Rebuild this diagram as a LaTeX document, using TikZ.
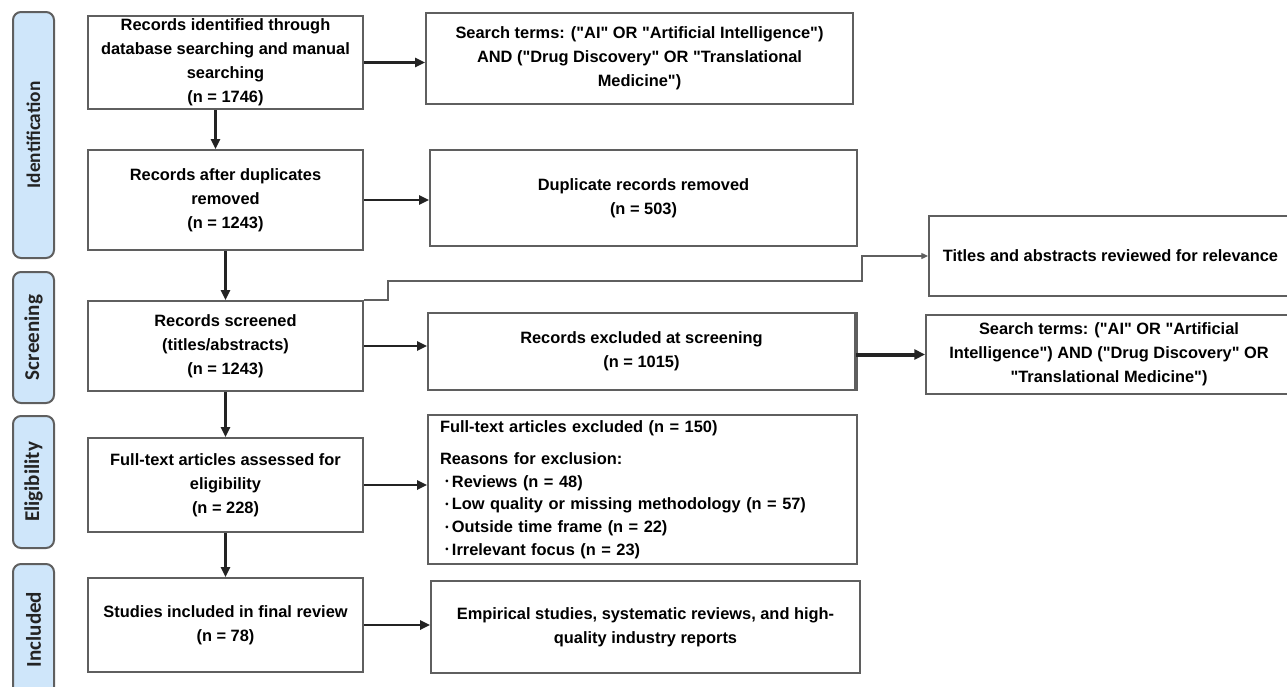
\documentclass[tikz,border=0pt]{standalone}
\usepackage{fontspec}
\setmainfont{Liberation Sans}[Ligatures=TeXOff]
\newfontfamily\phasefont{Carlito}
\usetikzlibrary{positioning, arrows.meta, calc}
\definecolor{cLine}{RGB}{95,95,95}
\definecolor{cArrow}{RGB}{35,35,35}
\definecolor{cPhase}{RGB}{207,230,250}
\definecolor{cPhaseText}{RGB}{35,35,35}
\newdimen\px \px=0.75pt
\newcommand{\exclbullet}{\hspace*{4pt}\raisebox{1.6pt}{\fontsize{7}{7}\selectfont\textbullet}\hspace{2.5pt}}

\begin{document}
\begin{tikzpicture}[x=0.75pt, y=-0.75pt,
    box/.style={draw=cLine, line width=1.5pt, fill=white, align=center, inner sep=2pt,
                font=\fontsize{12.3}{18}\selectfont\bfseries},
    phase/.style={draw=cLine, line width=1.5pt, fill=cPhase, rounded corners=6pt, rotate=90,
                  minimum height=41\px, inner sep=0pt, text=cPhaseText,
                  font=\phasefont\fontsize{15.8}{16}\selectfont\bfseries},
    arr/.style={-{Triangle[length=7.5pt,width=7pt]}, draw=cArrow, line width=1.6pt},
    thinarr/.style={-{Triangle[length=5pt,width=4.5pt]}, draw=cLine, line width=0.9pt}]
    \useasboundingbox (0,0) rectangle (1287,686);

    % Phases
    \node[phase, minimum width=246\px, font=\phasefont\fontsize{14.5}{16}\selectfont\bfseries]
        (Pid)  at (33.5,135)   {Identification};
    \node[phase, minimum width=131\px] (Pscr) at (33.5,337.5) {Screening};
    \node[phase, minimum width=132\px] (Pel)  at (33.5,482)   {Eligibility};
    \node[phase, minimum width=131\px] (Pinc) at (33.5,629.5) {Included};

    % Main flow
    \node[box, minimum width=275\px, minimum height=93\px]  (B1) at (225.5,62.5)
        {Records identified through\\database searching and manual\\searching\\(n = 1746)};
    \node[box, minimum width=275\px, minimum height=100\px] (B2) at (225.5,200)
        {Records after duplicates\\removed\\(n = 1243)};
    \node[box, minimum width=275\px, minimum height=90\px]  (B3) at (225.5,346)
        {Records screened\\(titles/abstracts)\\(n = 1243)};
    \node[box, minimum width=275\px, minimum height=94\px]  (B4) at (225.5,485)
        {Full-text articles assessed for\\eligibility\\(n = 228)};
    \node[box, minimum width=275\px, minimum height=94\px]  (B5) at (225.5,625)
        {Studies included in final review\\(n = 78)};

    % Side boxes
    \node[box, minimum width=427\px, minimum height=91\px] (R1) at (639.5,58.5)
        {Search terms: ("AI" OR "Artificial Intelligence")\\AND ("Drug Discovery" OR "Translational\\Medicine")};
    \node[box, minimum width=427\px, minimum height=96\px] (R2) at (643.5,198)
        {Duplicate records removed\\(n = 503)};
    \node[box, minimum width=363\px, minimum height=80\px] (R3) at (1110.5,256)
        {Titles and abstracts reviewed for relevance};
    \node[box, minimum width=427\px, minimum height=77\px] (R4) at (641.5,351.5)
        {Records excluded at screening\\(n = 1015)};
    \node[box, minimum width=366\px, minimum height=79\px] (R5) at (1109,354.5)
        {Search terms: ("AI" OR "Artificial\\Intelligence") AND ("Drug Discovery" OR\\"Translational Medicine")};
    \node[box, minimum width=429\px, minimum height=149\px, text width=405\px, align=left,
          font=\fontsize{12.3}{17}\selectfont\bfseries] (R6) at (642.5,489.5)
        {Full-text articles excluded (n = 150)\\[7pt]
         Reasons for exclusion:\\
         \exclbullet Reviews (n = 48)\\
         \exclbullet Low quality or missing methodology (n = 57)\\
         \exclbullet Outside time frame (n = 22)\\
         \exclbullet Irrelevant focus (n = 23)};
    \node[box, minimum width=429\px, minimum height=92\px] (R7) at (645.5,627)
        {Empirical studies, systematic reviews, and high-\\quality industry reports};
    \draw[cLine, line width=3pt] (R4.north east) -- (R4.south east);

    % Arrows down
    \draw[arr] ($(B1.south)+(-10,0)$) -- ($(B2.north)+(-10,0)$);
    \draw[arr] (B2) -- (B3);
    \draw[arr] (B3) -- (B4);
    \draw[arr] (B4) -- (B5);

    % Arrows right
    \draw[arr] (B1.east) -- (B1.east -| R1.west);
    \draw[arr] (B2.east) -- (B2.east -| R2.west);
    \draw[arr] (B3.east) -- (B3.east -| R4.west);
    \draw[arr] (B4.east) -- (B4.east -| R6.west);
    \draw[arr] (B5.east) -- (B5.east -| R7.west);
    \draw[arr, line width=3pt, -{Triangle[length=8pt,width=7.5pt]}] (R4.east |- R5.west) -- (R5.west);

    % Jog to titles box
    \coordinate (jog) at (862,281);
    \draw[thinarr] (B3.north east) -- ++(24,0) |- (jog) |- (R3.west);
\end{tikzpicture}
\end{document}
